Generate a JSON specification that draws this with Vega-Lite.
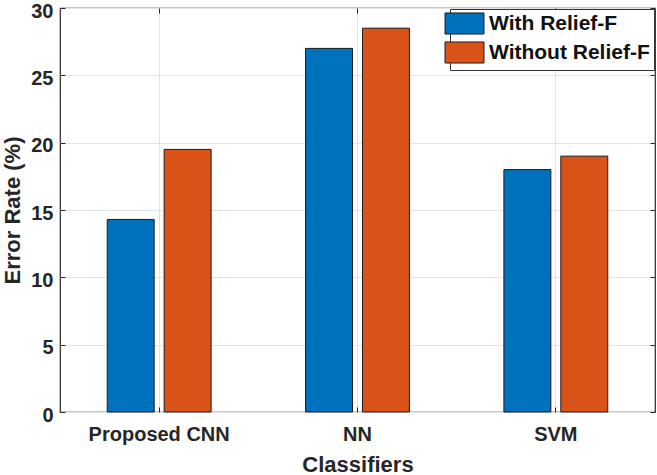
{
  "$schema": "https://vega.github.io/schema/vega-lite/v6.json",
  "width": 595,
  "height": 404,
  "autosize": {"type": "none"},
  "padding": {"left": 60, "top": 8, "right": 2, "bottom": 63},
  "background": "white",
  "config": {
    "font": "Liberation Sans",
    "view": {"stroke": "#262626", "strokeWidth": 1.2},
    "axis": {
      "labelFont": "Liberation Sans",
      "labelFontWeight": "bold",
      "labelFontSize": 20,
      "labelColor": "#262626",
      "titleFont": "Liberation Sans",
      "titleFontWeight": "bold",
      "titleFontSize": 22,
      "titleColor": "#262626",
      "domain": false,
      "gridColor": "#e3e3e3",
      "gridWidth": 1,
      "tickColor": "#262626",
      "tickSize": -5
    }
  },
  "data": {
    "values": [
      {"classifier": "Proposed CNN", "group": "With Relief-F", "value": 14.3},
      {"classifier": "Proposed CNN", "group": "Without Relief-F", "value": 19.5},
      {"classifier": "NN", "group": "With Relief-F", "value": 27.0},
      {"classifier": "NN", "group": "Without Relief-F", "value": 28.5},
      {"classifier": "SVM", "group": "With Relief-F", "value": 18.0},
      {"classifier": "SVM", "group": "Without Relief-F", "value": 19.0}
    ]
  },
  "resolve": {"axis": {"x": "independent", "y": "independent"}},
  "layer": [
    {
      "mark": {"type": "bar", "stroke": "#1a1a1a", "strokeWidth": 1},
      "encoding": {
        "x": {
          "field": "classifier",
          "type": "nominal",
          "sort": ["Proposed CNN", "NN", "SVM"],
          "scale": {"paddingInner": 0, "paddingOuter": 0},
          "axis": {"title": "Classifiers", "labelAngle": 0, "grid": true, "labelPadding": 17, "titlePadding": 10}
        },
        "xOffset": {
          "field": "group",
          "type": "nominal",
          "scale": {"paddingInner": 0.175, "paddingOuter": 0.83}
        },
        "y": {
          "field": "value",
          "type": "quantitative",
          "scale": {"domain": [0, 30], "nice": false},
          "axis": {"title": "Error Rate (%)", "values": [0, 5, 10, 15, 20, 25, 30], "grid": true, "labelPadding": 12, "labelOffset": 3, "titlePadding": 6}
        },
        "color": {
          "field": "group",
          "type": "nominal",
          "scale": {"domain": ["With Relief-F", "Without Relief-F"], "range": ["#0072BD", "#D95319"]},
          "legend": {
            "title": null,
            "orient": "none",
            "legendX": 390,
            "legendY": 1,
            "fillColor": "white",
            "strokeColor": "#333333",
            "padding": 4,
            "symbolType": "M-2,-1.08H2V1.08H-2Z",
            "symbolSize": 380,
            "symbolStrokeColor": "#1a1a1a",
            "symbolStrokeWidth": 1,
            "symbolOpacity": 1,
            "labelFont": "Liberation Sans",
            "labelFontWeight": "bold",
            "labelFontSize": 21,
            "labelColor": "#111111",
            "labelOffset": 14,
            "rowPadding": 2,
            "labelLimit": 300
          }
        }
      }
    },
    {
      "mark": {"type": "bar", "opacity": 0},
      "encoding": {
        "x": {
          "field": "classifier",
          "type": "nominal",
          "sort": ["Proposed CNN", "NN", "SVM"],
          "axis": {"orient": "top", "labels": false, "title": null, "grid": false}
        },
        "xOffset": {"field": "group", "type": "nominal"},
        "y": {
          "field": "value",
          "type": "quantitative",
          "axis": {"orient": "right", "labels": false, "title": null, "grid": false, "values": [0, 5, 10, 15, 20, 25, 30]}
        }
      }
    }
  ]
}
